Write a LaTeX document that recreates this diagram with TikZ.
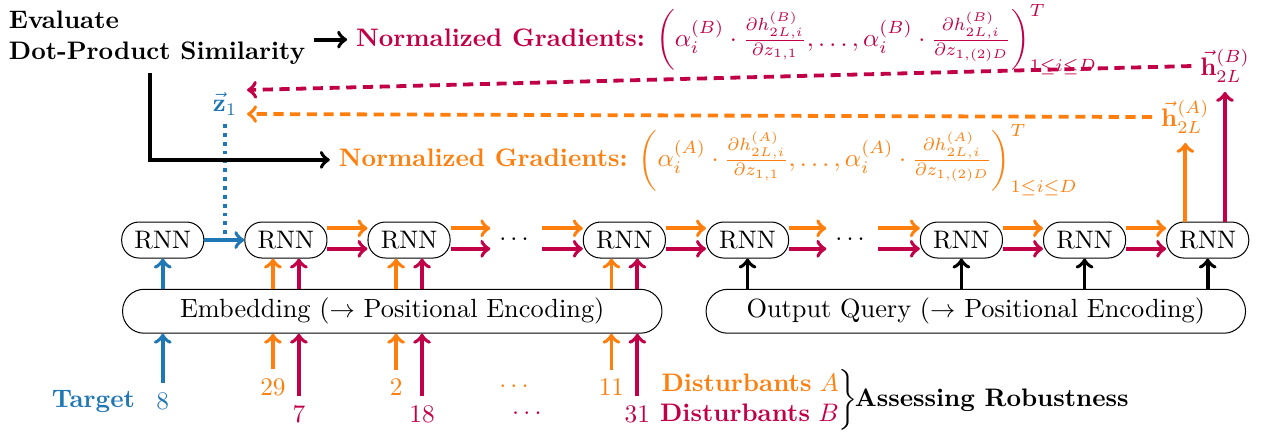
\documentclass[tikz,border=0pt]{standalone}
\usepackage{amsmath}
\usepackage{amssymb}
\usepackage{tikz}
\usetikzlibrary{positioning}
\definecolor{tblue}{RGB}{31,119,180}
\definecolor{torange}{RGB}{255,127,14}
\definecolor{tcrimson}{RGB}{194,0,72}

\begin{document}
\begin{tikzpicture}[
		rnn/.style={draw, rounded corners=0.24cm, minimum width=1.14cm, minimum height=0.5cm, inner sep=0pt},
		box/.style={draw, rounded corners=0.3cm, minimum width=7.49cm, minimum height=0.61cm, inner sep=0pt, font=\fontsize{10.4}{12}\selectfont},
		flow/.style={line width=1.5pt, ->},
		back/.style={line width=1.5pt, ->, dash pattern=on 4pt off 2.6pt},
	]
	\useasboundingbox (0,0) rectangle (17.51,-6.03);
	
	% top part
	\node[anchor=north west, align=left, font=\bfseries] (Ev) at (0,-0.03) {Evaluate\\Dot-Product Similarity};
	\node[anchor=west, inner ysep=0pt, tcrimson] (GB) at (4.82,-0.55) {\textbf{Normalized Gradients:} $\left(\alpha_i^{(B)}\cdot\frac{\partial h^{(B)}_{2L,i}}{\partial z_{1,1}},\ldots,\alpha_i^{(B)}\cdot\frac{\partial h^{(B)}_{2L,i}}{\partial z_{1,(2)D}}\right)^T_{1\leq i\leq D}$};
	\node[anchor=west, inner ysep=0pt, torange] (GA) at (4.58,-2.22) {\textbf{Normalized Gradients:} $\left(\alpha_i^{(A)}\cdot\frac{\partial h^{(A)}_{2L,i}}{\partial z_{1,1}},\ldots,\alpha_i^{(A)}\cdot\frac{\partial h^{(A)}_{2L,i}}{\partial z_{1,(2)D}}\right)^T_{1\leq i\leq D}$};
	
	\node[tblue] (Z) at (3.125,-1.444) {$\vec{\mathbf{z}}_1$};
	\node[tcrimson] (HB) at (17.01,-0.917) {$\vec{\mathbf{h}}^{(B)}_{2L}$};
	\node[torange] (HA) at (16.46,-1.625) {$\vec{\mathbf{h}}^{(A)}_{2L}$};
	\coordinate (inB) at (3.43,-1.25);
	\coordinate (inA) at (3.43,-1.583);
	\coordinate (corner) at (2.08,-2.22);
	
	% RNN chain
	\node[rnn] (R1) at (2.26,-3.333) {RNN};
	\node[rnn] (R2) at (3.97,-3.333) {RNN};
	\node[rnn] (R3) at (5.68,-3.333) {RNN};
	\node (D1) at (7.167,-3.333) {$\cdots$};
	\node[rnn] (R4) at (8.67,-3.333) {RNN};
	\node[rnn] (R5) at (10.38,-3.333) {RNN};
	\node (D2) at (11.833,-3.333) {$\cdots$};
	\node[rnn] (R6) at (13.35,-3.333) {RNN};
	\node[rnn] (R7) at (15.06,-3.333) {RNN};
	\node[rnn] (R8) at (16.77,-3.333) {RNN};
	
	\node[box] (E) at (5.447,-4.322) {Embedding ($\rightarrow$ Positional Encoding)};
	\node[box] (Q) at (13.55,-4.322) {Output Query ($\rightarrow$ Positional Encoding)};
	
	% inputs
	\node[tblue] (n8) at (2.26,-5.569) {8};
	\node[tblue, font=\bfseries, left=0.5mm of n8] (T) {Target};
	\node[torange] (n29) at (3.79,-5.375) {29};
	\node[tcrimson] (n7) at (4.15,-5.75) {7};
	\node[torange] (n2) at (5.50,-5.375) {2};
	\node[tcrimson] (n18) at (5.86,-5.75) {18};
	\node[torange] (dA) at (7.167,-5.375) {$\cdots$};
	\node[tcrimson] (dB) at (7.347,-5.75) {$\cdots$};
	\node[torange] (n11) at (8.49,-5.375) {11};
	\node[tcrimson] (n31) at (8.85,-5.75) {31};
	
	\node[anchor=west] (Dist) at (9.0,-5.556) {$\left.\begin{array}{@{}r@{}}\text{\color{torange}\textbf{Disturbants} $A$}\\ \text{\color{tcrimson}\textbf{Disturbants} $B$}\end{array}\right\}$};
	\node[right=-0.29cm of Dist, font=\bfseries] (AR) {Assessing Robustness};
	
	% chain arrows
	\draw[flow, tblue] (R1) -- (R2);
	\draw[flow, torange] ([yshift=1.63mm]R2.east) -- ([yshift=1.63mm]R3.west);
	\draw[flow, tcrimson] ([yshift=-1.22mm]R2.east) -- ([yshift=-1.22mm]R3.west);
	\draw[flow, torange] ([yshift=1.63mm]R3.east) -- ([yshift=1.63mm]D1.west);
	\draw[flow, tcrimson] ([yshift=-1.22mm]R3.east) -- ([yshift=-1.22mm]D1.west);
	\draw[flow, torange] ([yshift=1.63mm]D1.east) -- ([yshift=1.63mm]R4.west);
	\draw[flow, tcrimson] ([yshift=-1.22mm]D1.east) -- ([yshift=-1.22mm]R4.west);
	\draw[flow, torange] ([yshift=1.63mm]R4.east) -- ([yshift=1.63mm]R5.west);
	\draw[flow, tcrimson] ([yshift=-1.22mm]R4.east) -- ([yshift=-1.22mm]R5.west);
	\draw[flow, torange] ([yshift=1.63mm]R5.east) -- ([yshift=1.63mm]D2.west);
	\draw[flow, tcrimson] ([yshift=-1.22mm]R5.east) -- ([yshift=-1.22mm]D2.west);
	\draw[flow, torange] ([yshift=1.63mm]D2.east) -- ([yshift=1.63mm]R6.west);
	\draw[flow, tcrimson] ([yshift=-1.22mm]D2.east) -- ([yshift=-1.22mm]R6.west);
	\draw[flow, torange] ([yshift=1.63mm]R6.east) -- ([yshift=1.63mm]R7.west);
	\draw[flow, tcrimson] ([yshift=-1.22mm]R6.east) -- ([yshift=-1.22mm]R7.west);
	\draw[flow, torange] ([yshift=1.63mm]R7.east) -- ([yshift=1.63mm]R8.west);
	\draw[flow, tcrimson] ([yshift=-1.22mm]R7.east) -- ([yshift=-1.22mm]R8.west);
	
	% embedding and query into the cells
	\draw[flow, tblue] (R1 |- E.north) -- (R1);
	\draw[flow, torange] (n29 |- E.north) -- (n29 |- R2.south);
	\draw[flow, tcrimson] (n7 |- E.north) -- (n7 |- R2.south);
	\draw[flow, torange] (n2 |- E.north) -- (n2 |- R3.south);
	\draw[flow, tcrimson] (n18 |- E.north) -- (n18 |- R3.south);
	\draw[flow, torange] (n11 |- E.north) -- (n11 |- R4.south);
	\draw[flow, tcrimson] (n31 |- E.north) -- (n31 |- R4.south);
	\draw[flow] (R5 |- Q.north) -- (R5);
	\draw[flow] (R6 |- Q.north) -- (R6);
	\draw[flow] (R7 |- Q.north) -- (R7);
	\draw[flow] (R8 |- Q.north) -- (R8);
	
	% tokens into the embedding
	\draw[flow, tblue] (n8) -- (n8 |- E.south);
	\draw[flow, torange] (n29) -- (n29 |- E.south);
	\draw[flow, tcrimson] (n7) -- (n7 |- E.south);
	\draw[flow, torange] (n2) -- (n2 |- E.south);
	\draw[flow, tcrimson] (n18) -- (n18 |- E.south);
	\draw[flow, torange] (n11) -- (n11 |- E.south);
	\draw[flow, tcrimson] (n31) -- (n31 |- E.south);
	
	% outputs and gradients
	\draw[flow, torange] (R8.north -| HA) -- (HA);
	\draw[flow, tcrimson] (R8.north -| HB) -- (HB);
	\draw[back, tcrimson] (HB.west) -- (inB);
	\draw[back, torange] (HA.west) -- (inA);
	\draw[tblue, line width=1.5pt, dotted] (Z) -- (Z |- R1);
	\draw[flow] (Ev.east |- GB.west) -- (GB.west);
	\draw[flow] (Ev.south -| corner) |- (GA.west);
\end{tikzpicture}
\end{document}
